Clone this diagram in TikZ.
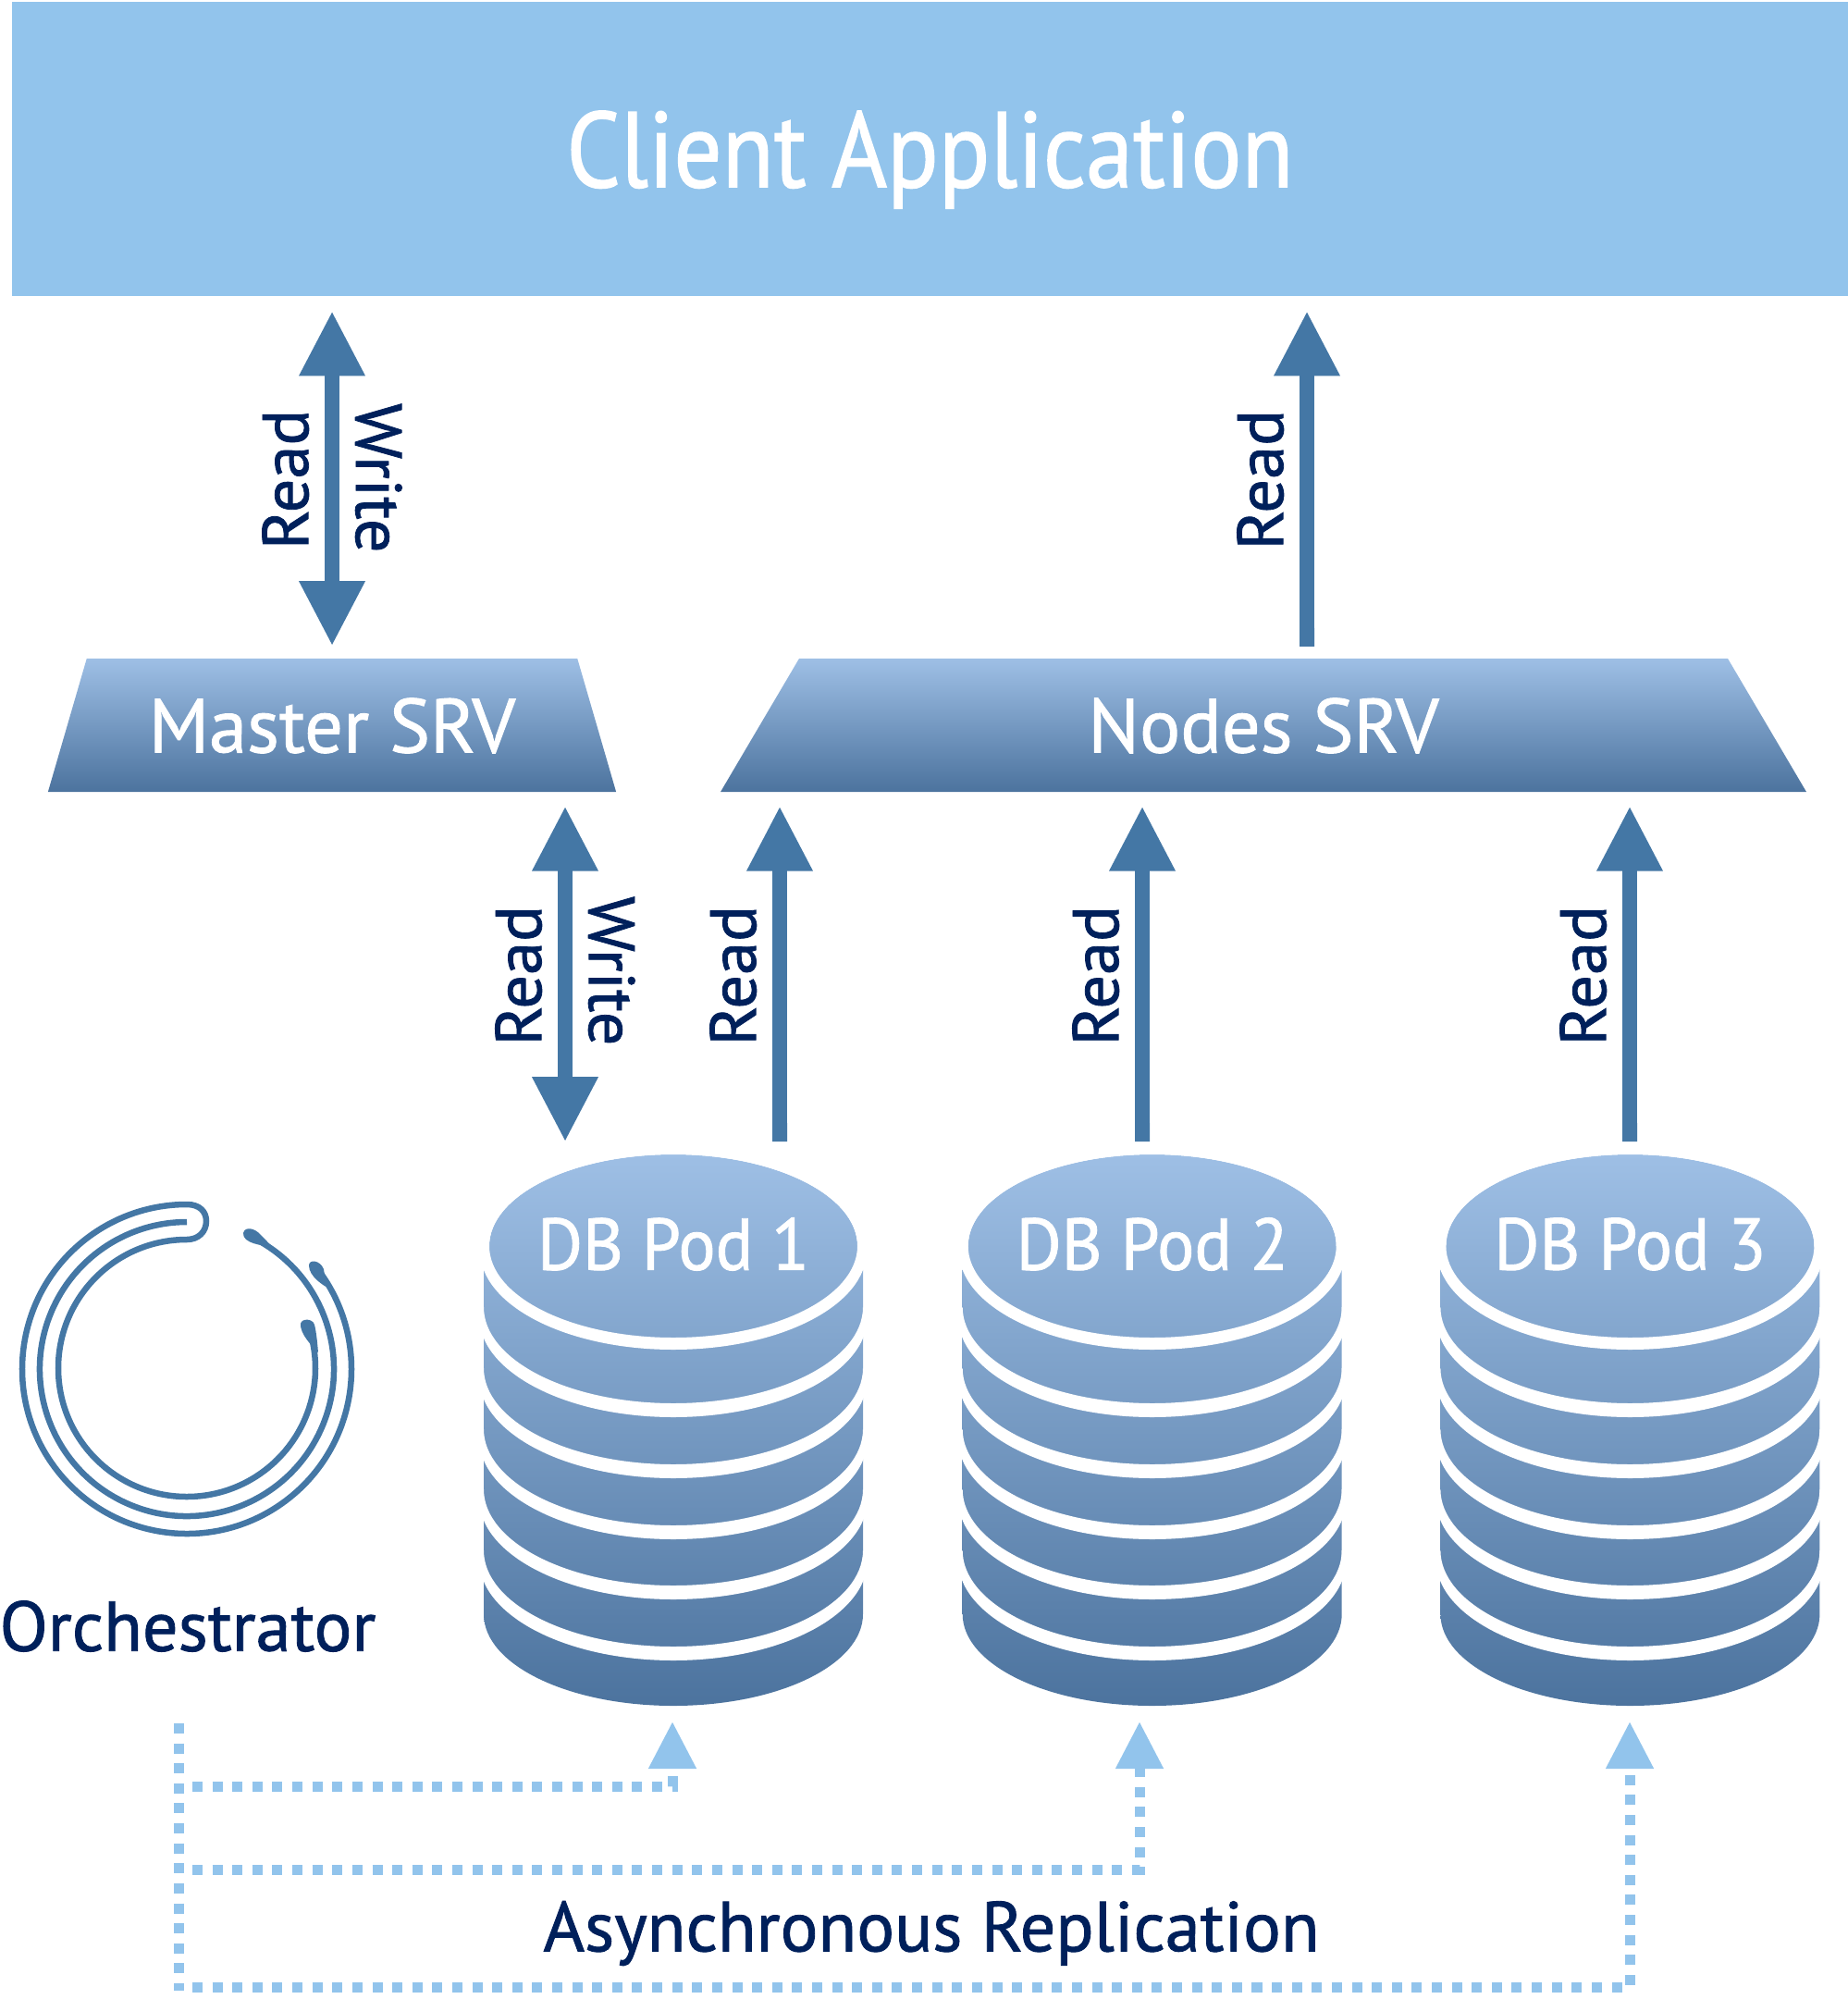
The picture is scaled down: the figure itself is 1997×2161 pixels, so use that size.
\documentclass[tikz,border=0pt]{standalone}
\usepackage{fontspec}
\setmainfont{PT Sans}[FakeBold=1.1]
\newfontfamily\clientfont{PT Sans}[FakeBold=1.1,FakeStretch=.885]
\newfontfamily\podfont{PT Sans}[FakeBold=1.1,FakeStretch=.95]
\newfontfamily\sidefont{PT Sans}[FakeBold=1.1,FakeStretch=1.03]
\usepackage[dvipsnames]{xcolor}
\usetikzlibrary{positioning,calc,arrows.meta,shapes.geometric,backgrounds}

\definecolor{clientblue}{HTML}{92C4EC}
\definecolor{flowblue}{HTML}{4477A5}
\definecolor{navytext}{HTML}{00205B}
\definecolor{fadetop}{HTML}{9EBFE5}
\definecolor{fadebottom}{HTML}{4C739E}

\tikzset{
  srvbox/.style={trapezium,trapezium stretches=true,inner sep=0pt,minimum height=1.44cm,text depth=0pt,
    top color=fadetop,bottom color=fadebottom,text=white,font=\fontsize{23.5}{26}\selectfont},
  podlabel/.style={minimum width=3.98cm,minimum height=1.98cm,inner sep=0pt,text=white,text depth=.05cm,
    font=\podfont\fontsize{22.5}{26}\selectfont},
  flowline/.style={draw=flowblue,line width=.16cm,
    {Triangle[width=.67cm,length=.7cm]}-{Triangle[width=.67cm,length=.7cm]},
    shorten <=.155cm,shorten >=.13cm},
  readflow/.style={flowline,{Triangle[width=.67cm,length=.7cm]}-{Butt Cap[]}},
  sidelabel/.style={inner xsep=0pt,inner ysep=.17cm,anchor=south,text=navytext,
    font=\sidefont\fontsize{20}{24}\selectfont},
  replicate/.style={draw=clientblue,line width=.11cm,dash pattern=on .11cm off .106cm},
  replhead/.style={replicate,-{Triangle[width=.49cm,length=.51cm]}},
  logoline/.style={draw=flowblue,line width=.065cm},
  logotip/.style={fill=flowblue},
  bluetext/.style={text=navytext,font=\fontsize{21.7}{26}\selectfont}
}

\begin{document}
\begin{tikzpicture}[x=.01cm,y=-.01cm]
\useasboundingbox (0,0) rectangle (1997,2161);

\node[fill=clientblue,minimum width=19.83cm,minimum height=3.18cm,inner sep=0pt,text depth=0pt,
      text=white,font=\clientfont\fontsize{33}{38}\selectfont] (client) at (1005.5,161) {Client Application};

\node[srvbox,trapezium left angle=62,trapezium right angle=62,minimum width=6.14cm] (master) at (359,784) {Master SRV};
\node[srvbox,trapezium left angle=61.4,trapezium right angle=61.4,minimum width=11.75cm] (nodes) at (1366,784) {Nodes SRV};

\node[podlabel] (pod1) at (728,1347) {DB Pod 1};
\node[podlabel] (pod2) [right=1.18cm of pod1] {DB Pod 2};
\node[podlabel] (pod3) [right=1.17cm of pod2] {DB Pod 3};

% the stacks go behind their labels
\begin{scope}[on background layer]
\foreach \pod in {pod1,pod2,pod3} {
  \begin{scope}[shift={(\pod.center)}]
  \shade[top color=fadetop,bottom color=fadebottom]
    (-205,26) -- (-205,398) arc[start angle=180,end angle=0,x radius=205,y radius=99]
    -- (205,26) -- (199,0) arc[start angle=0,end angle=-180,x radius=199,y radius=99] -- cycle;
  \fill[white,even odd rule] (0,5) ellipse[x radius=209,y radius=107]
    (0,0) ellipse[x radius=199,y radius=99];
  \foreach \bandtop in {170,236,302,367,433} {
    \fill[white] (-210,{\bandtop+15-109}) arc[start angle=180,end angle=0,x radius=210,y radius=109]
      -- (205,{\bandtop-104}) arc[start angle=0,end angle=180,x radius=205,y radius=104] -- cycle;
  }
  \end{scope}
}
\end{scope}

\coordinate (nodesup) at (1413,712);
\coordinate (masterport) at (611,856);
\coordinate (nodesport1) at (843,856);
\coordinate (nodesport2) at (1235,856);
\coordinate (nodesport3) at (1762,856);

\draw[flowline] (client.south -| master.north) -- (master.north)
  node[sidelabel,rotate=90,pos=.506] {Read}
  node[sidelabel,rotate=-90,pos=.502] {Write};
\draw[readflow] (nodesup |- client.south) -- (nodesup)
  node[sidelabel,rotate=90,pos=.506] {Read};
\draw[flowline] (masterport) -- (masterport |- pod1.north)
  node[sidelabel,rotate=90,pos=.508] {Read}
  node[sidelabel,rotate=-90,pos=.495] {Write};
\draw[readflow] (nodesport1) -- (nodesport1 |- pod1.north)
  node[sidelabel,rotate=90,pos=.508] {Read};
\draw[readflow] (nodesport2) -- (nodesport2 |- pod2.north)
  node[sidelabel,rotate=90,pos=.508] {Read};
\draw[readflow] (nodesport3) -- (nodesport3 |- pod3.north)
  node[sidelabel,rotate=90,pos=.508] {Read};

% orchestrator mark
\draw[logoline] (202,1480) ++(-38:178) arc[start angle=-38,end angle=270,radius=178]
  .. controls (216,1302) and (223,1310) .. (223,1320)
  .. controls (223,1332) and (214,1340) .. (202,1340)
  arc[start angle=-90,end angle=-380,radius=139];
\draw[logoline] (202,1480) ++(-65:159) arc[start angle=-65,end angle=270,radius=159];
\fill[logotip] (263,1333) .. controls (265,1325) and (276,1328) .. (282,1335) .. controls (286,1339) and (290,1343) .. (293,1347) .. controls (284,1347) and (262,1344) .. cycle;
\fill[logotip] (334,1368) .. controls (334,1361) and (346,1362) .. (350,1372) .. controls (351,1380) and (353,1386) .. (356,1393) .. controls (350,1390) and (334,1380) .. cycle;
\fill[logotip] (325,1431) .. controls (326,1425) and (338,1425) .. (340,1432) .. controls (342,1440) and (343,1450) .. (344,1462) .. controls (338,1456) and (324,1442) .. cycle;

\node[bluetext,inner sep=0pt] (orchestrator) at (203,1758) {Orchestrator};
\node[bluetext,inner sep=0pt] (asynclabel) at (1007,2090) {Asynchronous Replication};

\coordinate (replroot) at (193.5,1863);
\coordinate (replbase) at (193.5,2152);
\coordinate (row1) at (208,1931);
\coordinate (row2) at (208,2021);
\coordinate (row3) at (208,2148);
\coordinate (pod1in) at (727,1861);
\coordinate (pod2in) at (1232,1861);
\coordinate (pod3in) at (1762,1861);

\draw[replicate] (replroot) -- (replbase);
\draw[replhead] (row1) -| (pod1in);
\draw[replhead] (row2) -| (pod2in);
\draw[replhead] (row3) -| (pod3in);
\end{tikzpicture}
\end{document}
